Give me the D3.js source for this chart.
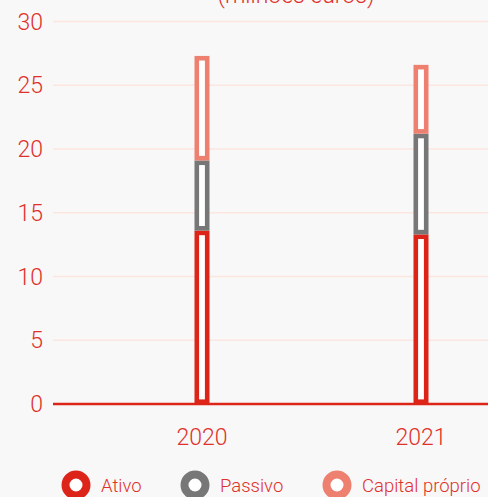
<!DOCTYPE html>
<html>
<head>
<meta charset="utf-8">
<script src="https://cdn.jsdelivr.net/npm/d3@7"></script>
<style>
html,body{margin:0;padding:0;background:#f8f8f8;}
svg{display:block;}
text{font-family:Roboto,"Noto Sans",sans-serif;font-weight:300;}
</style>
</head>
<body>
<svg id="chart" width="488" height="497"></svg>
<script>
const categories = ["2020", "2021"];
const seriesNames = ["Ativo", "Passivo", "Capital próprio"];
const ativo = [13.6, 13.3];
const passivo = [5.5, 7.9];
const capital = [8.2, 5.4];
const yTicks = [0, 5, 10, 15, 20, 25, 30];
const title = "(milhões euros)";

const colors = ["#dc2419", "#777777", "#ee8070"];
const textColor = "#e0302a";

const rows = categories.map((c, i) => ({cat: c, "Ativo": ativo[i], "Passivo": passivo[i], "Capital próprio": capital[i]}));
const stacked = d3.stack().keys(seriesNames)(rows);

const svg = d3.select("#chart");
const left = 53, right = 488;

const y = d3.scaleLinear().domain([0, 30]).range([404, 21.5]);
const x = d3.scaleBand().domain(categories).range([92.5, 530.5]).paddingInner(0.93).paddingOuter(0.465);

// title (cut off at top, as in the reference)
svg.append("text").attr("x", 296).attr("y", 3).attr("text-anchor", "middle")
  .attr("fill", textColor).style("font-size", "23px").text(title);

// gridlines
svg.append("g").selectAll("line").data(yTicks.filter(t => t > 0)).join("line")
  .attr("x1", left).attr("x2", right)
  .attr("y1", d => y(d)).attr("y2", d => y(d))
  .attr("stroke", "#fce6df").attr("stroke-width", 1.5);

// y labels
svg.append("g").selectAll("text").data(yTicks).join("text")
  .attr("x", 43).attr("y", d => y(d)).attr("dy", "0.35em")
  .attr("text-anchor", "end").attr("fill", textColor)
  .style("font-size", "23px").text(d => d);

// bars
const bw = 15;
const sw = 4.6;
svg.append("g").selectAll("g").data(stacked).join("g")
  .attr("stroke", (d, i) => colors[i])
  .selectAll("rect").data(d => d).join("rect")
  .attr("x", d => x(d.data.cat) + x.bandwidth() / 2 - bw / 2 + sw / 2)
  .attr("width", bw - sw)
  .attr("y", d => y(d[1]) + sw / 2)
  .attr("height", d => Math.max(0, y(d[0]) - y(d[1]) - sw))
  .attr("fill", "#ffffff")
  .attr("stroke-width", sw);

// baseline axis
svg.append("line").attr("x1", left).attr("x2", right)
  .attr("y1", y(0)).attr("y2", y(0))
  .attr("stroke", "#dc2419").attr("stroke-width", 2.5);

// x labels
svg.append("g").selectAll("text").data(categories).join("text")
  .attr("x", d => x(d) + x.bandwidth() / 2).attr("y", 445)
  .attr("text-anchor", "middle").attr("fill", textColor)
  .style("font-size", "23px").text(d => d);

// legend
const legendX = [76, 195, 337];
const lg = svg.append("g").selectAll("g").data(seriesNames).join("g")
  .attr("transform", (d, i) => `translate(${legendX[i]},485)`);
lg.append("circle").attr("r", 10.5).attr("fill", "#ffffff")
  .attr("stroke", (d, i) => colors[i]).attr("stroke-width", 8);
lg.append("text").attr("x", 25).attr("y", 7).attr("fill", textColor)
  .style("font-size", "18.5px").text(d => d);
</script>
</body>
</html>
